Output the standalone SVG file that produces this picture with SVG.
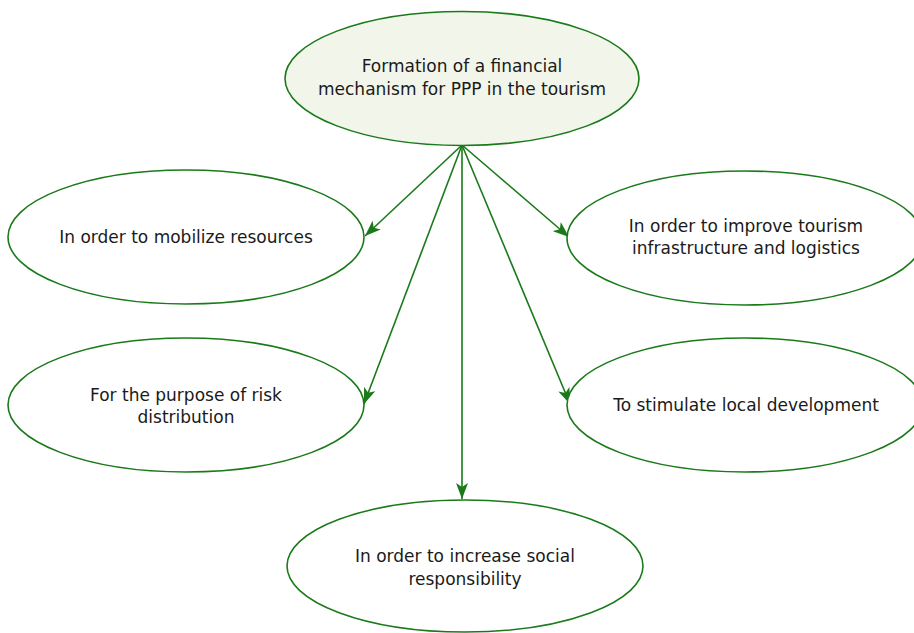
<svg xmlns="http://www.w3.org/2000/svg" width="914" height="633" viewBox="0 0 914 633">
<defs>
<marker id="ah" viewBox="0 0 16 12" refX="16" refY="6" markerWidth="16" markerHeight="12" markerUnits="userSpaceOnUse" orient="auto">
<path d="M0,0 L16,6 L0,12 L4,6 Z" fill="#1a7a1a"/>
</marker>
<style>
.n{fill:#ffffff;stroke:#1a7a1a;stroke-width:1.6}
.root{fill:#f2f6ea}
.t{font-family:"DejaVu Sans",Verdana,sans-serif;font-size:17px;fill:#1a1a1a;text-anchor:middle}
.c{stroke:#1a7a1a;stroke-width:1.6;fill:none;marker-end:url(#ah)}
</style>
</defs>
<rect width="914" height="633" fill="#ffffff"/>
<g id="connectors">
<line class="c" x1="462" y1="145" x2="365" y2="236"/>
<line class="c" x1="462" y1="145" x2="569" y2="237"/>
<line class="c" x1="462" y1="145" x2="364" y2="404"/>
<line class="c" x1="462" y1="145" x2="570" y2="404"/>
<line class="c" x1="462" y1="145" x2="462" y2="499"/>
</g>
<g id="root">
<ellipse class="n root" cx="462" cy="78.5" rx="177" ry="67"/>
<text class="t" x="462" y="72">Formation of a financial</text>
<text class="t" x="462" y="95">mechanism for PPP in the tourism</text>
</g>
<g id="mobilize">
<ellipse class="n" cx="186" cy="237" rx="178" ry="67"/>
<text class="t" x="186" y="243">In order to mobilize resources</text>
</g>
<g id="infrastructure">
<ellipse class="n" cx="745" cy="238" rx="178" ry="67"/>
<text class="t" x="746" y="232">In order to improve tourism</text>
<text class="t" x="746" y="254">infrastructure and logistics</text>
</g>
<g id="risk">
<ellipse class="n" cx="186" cy="405" rx="178" ry="67"/>
<text class="t" x="186" y="401">For the purpose of risk</text>
<text class="t" x="186" y="423">distribution</text>
</g>
<g id="local">
<ellipse class="n" cx="745" cy="405" rx="178" ry="67"/>
<text class="t" x="746" y="411">To stimulate local development</text>
</g>
<g id="social">
<ellipse class="n" cx="465" cy="566" rx="178" ry="66"/>
<text class="t" x="465" y="562">In order to increase social</text>
<text class="t" x="465" y="585">responsibility</text>
</g>
</svg>
